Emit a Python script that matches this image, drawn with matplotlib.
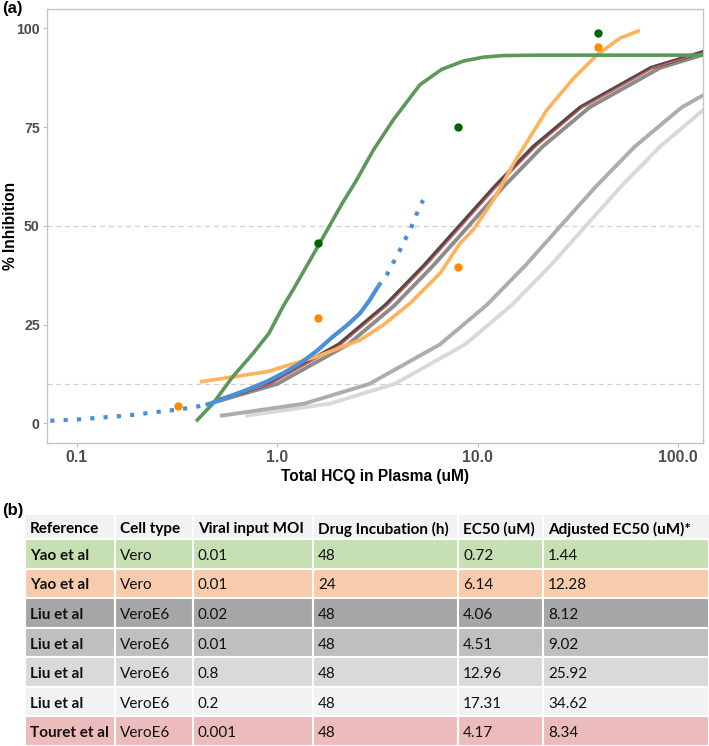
import matplotlib
matplotlib.use("Agg")
import matplotlib.pyplot as plt
from matplotlib.patches import Rectangle
import numpy as np

W, H = 709, 746

# ---------------- data: panel (a) ----------------
resp_levels_a = [2, 5, 10, 20, 30, 40, 50, 60, 70, 80, 90]
resp_levels_b = [5.8, 10, 20, 30, 40, 50, 60, 70, 80, 90, 95]

liu_02_x = [0.71, 1.82, 3.85, 8.66, 14.8, 23.1, 34.6, 51.9, 80.8, 138, 312]
liu_08_x = [0.53, 1.36, 2.88, 6.48, 11.1, 17.3, 25.9, 38.9, 60.5, 104, 233]
liu_001_x = [0.52, 1.00, 2.26, 3.87, 6.01, 9.02, 13.5, 21.0, 36.1, 81.2, 171]
liu_002_x = [0.50, 0.90, 2.03, 3.48, 5.41, 8.12, 12.2, 18.9, 32.5, 73.1, 154]
touret_x = [0.50, 0.93, 2.09, 3.57, 5.56, 8.34, 12.5, 19.5, 33.4, 75.1, 158]

yao48_x = [0.40, 0.48, 0.60, 0.76, 0.91, 1.07, 1.20, 1.56, 2.10, 2.49, 3.02,
           3.79, 5.15, 6.61, 8.47, 10.7, 13.4, 20.0, 40.0, 140]
yao48_y = [0.9, 5.1, 11.8, 17.8, 22.8, 29.6, 33.8, 43.9, 55.5, 61.6, 69.2,
           76.8, 85.7, 89.6, 91.7, 92.7, 93.1, 93.2, 93.2, 93.2]

yao24_x = [0.42, 0.89, 1.57, 2.59, 3.38, 4.60, 6.49, 8.17, 9.5, 12.0, 15.1,
           22.1, 30.0, 39.2, 51.2, 63.1]
yao24_y = [10.6, 13.1, 16.9, 21.1, 24.9, 30.4, 38.0, 45.6, 49.0, 56.6, 65.8,
           79.3, 87.3, 93.2, 97.5, 99.3]

blue_lo_x = [0.074, 0.10, 0.178, 0.328, 0.383, 0.44]
blue_lo_y = [0.7, 1.0, 2.0, 3.6, 4.1, 4.7]
blue_mid_x = [0.44, 0.52, 0.605, 0.73, 0.887, 1.07, 1.30, 1.58, 1.90, 2.25, 2.59, 2.90, 3.20]
blue_mid_y = [4.7, 5.9, 7.2, 8.8, 10.6, 12.7, 15.2, 18.4, 22.0, 25.0, 27.9, 31.3, 34.8]
blue_hi_x = [3.20, 3.52, 4.06, 4.64, 5.20, 5.35]
blue_hi_y = [34.8, 37.6, 43.5, 49.4, 55.5, 56.5]

obs_green_x = [1.6, 8.0, 40.0]
obs_green_y = [45.6, 75.0, 98.7]
obs_orange_x = [0.32, 1.6, 8.0, 40.0]
obs_orange_y = [4.4, 26.6, 39.5, 95.2]

x_ticks = [0.1, 1.0, 10.0, 100.0]
x_tick_labels = ["0.1", "1.0", "10.0", "100.0"]
y_ticks = [0, 25, 50, 75, 100]
ref_lines = [10, 50]

# ---------------- data: panel (b) ----------------
col_headers = ["Reference", "Cell type", "Viral input MOI", "Drug Incubation (h)",
               "EC50 (uM)", "Adjusted EC50 (uM)*"]
references = ["Yao et al", "Yao et al", "Liu et al", "Liu et al", "Liu et al",
              "Liu et al", "Touret et al"]
cell_types = ["Vero", "Vero", "VeroE6", "VeroE6", "VeroE6", "VeroE6", "VeroE6"]
mois = ["0.01", "0.01", "0.02", "0.01", "0.8", "0.2", "0.001"]
incubation = ["48", "24", "48", "48", "48", "48", "48"]
ec50 = ["0.72", "6.14", "4.06", "4.51", "12.96", "17.31", "4.17"]
adj_ec50 = ["1.44", "12.28", "8.12", "9.02", "25.92", "34.62", "8.34"]
row_colors = ["#c6e0b4", "#f8cbad", "#a6a6a6", "#bfbfbf", "#d9d9d9", "#f2f2f2", "#ecbcbc"]
header_color = "#f2f2f2"

# ---------------- figure ----------------
fig = plt.figure(figsize=(W / 100, H / 100), dpi=100)
sans = ["Liberation Sans", "DejaVu Sans"]

L, R, T, B = 46.7, 703.0, 9.0, 442.7
ax = fig.add_axes([L / W, 1 - B / H, (R - L) / W, (B - T) / H])
ax.set_xscale("log")
ax.set_xlim(0.0710, 132.8)
ax.set_ylim(-4.86, 104.88)

for yv in ref_lines:
    ax.axhline(yv, color="#d0d0d0", lw=0.9, ls=(0, (4, 3)), zorder=1)

ax.plot(liu_02_x, resp_levels_a, color="#d9d9d9", lw=2.8, zorder=2)
ax.plot(liu_08_x, resp_levels_a, color="#adadad", lw=2.8, zorder=2)
ax.plot(liu_001_x, resp_levels_b, color="#8c8c8c", lw=2.8, zorder=3)
ax.plot(liu_002_x, resp_levels_b, color="#554848", lw=2.8, zorder=3)
ax.plot(touret_x, resp_levels_b, color="#e06666", lw=0.9, zorder=4)

ax.plot(yao24_x, yao24_y, color="#ffb25c", lw=2.6, zorder=5)
ax.plot(yao48_x, yao48_y, color="#5c985a", lw=2.6, zorder=6)

ax.plot(blue_lo_x, blue_lo_y, color="#4a90d9", lw=3.0, ls=(0, (1, 2.2)),
        dash_capstyle="butt", zorder=6)
ax.plot(blue_mid_x, blue_mid_y, color="#4a90d9", lw=3.0, zorder=6,
        solid_capstyle="butt")
ax.plot(blue_hi_x, blue_hi_y, color="#4a90d9", lw=3.0, ls=(0, (1, 2.2)),
        dash_capstyle="butt", zorder=6)

ax.plot(obs_green_x, obs_green_y, "o", color="#006400", ms=5, zorder=7)
ax.plot(obs_orange_x, obs_orange_y, "o", color="#ff8c00", ms=5, zorder=7)

ax.set_xticks(x_ticks)
ax.set_xticklabels(x_tick_labels)
ax.xaxis.set_minor_locator(matplotlib.ticker.NullLocator())
ax.set_yticks(y_ticks)
ax.set_yticklabels([str(v) for v in y_ticks])
for s in ax.spines.values():
    s.set_color("#c4c4c4")
    s.set_linewidth(1.0)
ax.tick_params(axis="both", colors="#bdbdbd", length=3, width=0.8,
               labelcolor="#4d4d4d", pad=2)
for lab in ax.get_xticklabels():
    lab.set_family(sans)
    lab.set_fontweight("bold")
    lab.set_fontsize(11.3)
for lab in ax.get_yticklabels():
    lab.set_family(sans)
    lab.set_fontweight("bold")
    lab.set_fontsize(10.2)
ax.set_xlabel("Total HCQ in Plasma (uM)", family=sans, fontweight="bold",
              fontsize=11.2, labelpad=3, color="black")
ylab = ax.set_ylabel("% Inhibition", family=sans, fontweight="bold",
                     fontsize=11.2, color="black")
ylab.set_verticalalignment("center")
ylab.set_rotation_mode("anchor")
ax.yaxis.set_label_coords(10.5 / W, 1 - 226 / H, transform=fig.transFigure)

fig.text(2 / W, 1 - 9 / H, "(a)", family=sans, fontweight="bold",
         fontsize=12, va="center", ha="left")
fig.text(2 / W, 1 - 511 / H, "(b)", family=sans, fontweight="bold",
         fontsize=12, va="center", ha="left")

# ---------------- table (b) ----------------
tax = fig.add_axes([0, 0, 1, 1], zorder=-1)
tax.set_xlim(0, W)
tax.set_ylim(H, 0)
tax.axis("off")

col_edges = [25, 115, 193, 313, 458, 543, 709]
header_top, header_bot = 515, 539
row_h = (H - header_bot) / len(references)
pad = 5
tfont = ["Lato", "DejaVu Sans"]
tsize = 11

tax.add_patch(Rectangle((col_edges[0], header_top), col_edges[-1] - col_edges[0],
                        header_bot - header_top, facecolor=header_color,
                        edgecolor="none"))
for j, h in enumerate(col_headers):
    tax.text(col_edges[j] + pad, (header_top + header_bot) / 2 + 2, h,
             family=tfont, fontsize=tsize, fontweight="bold", va="center", ha="left")

columns = [references, cell_types, mois, incubation, ec50, adj_ec50]
for i in range(len(references)):
    y0 = header_bot + i * row_h
    for j in range(len(columns)):
        tax.add_patch(Rectangle((col_edges[j], y0), col_edges[j + 1] - col_edges[j],
                                row_h, facecolor=row_colors[i], edgecolor="white",
                                lw=1.5))
        tax.text(col_edges[j] + pad, y0 + row_h / 2 + 2, columns[j][i],
                 family=tfont, fontsize=tsize,
                 fontweight="bold" if j == 0 else "normal",
                 va="center", ha="left", color="#111111")
for xe in col_edges[1:-1]:
    tax.plot([xe, xe], [header_top, header_bot], color="white", lw=1.5)

fig.savefig("out.png", dpi=100)
